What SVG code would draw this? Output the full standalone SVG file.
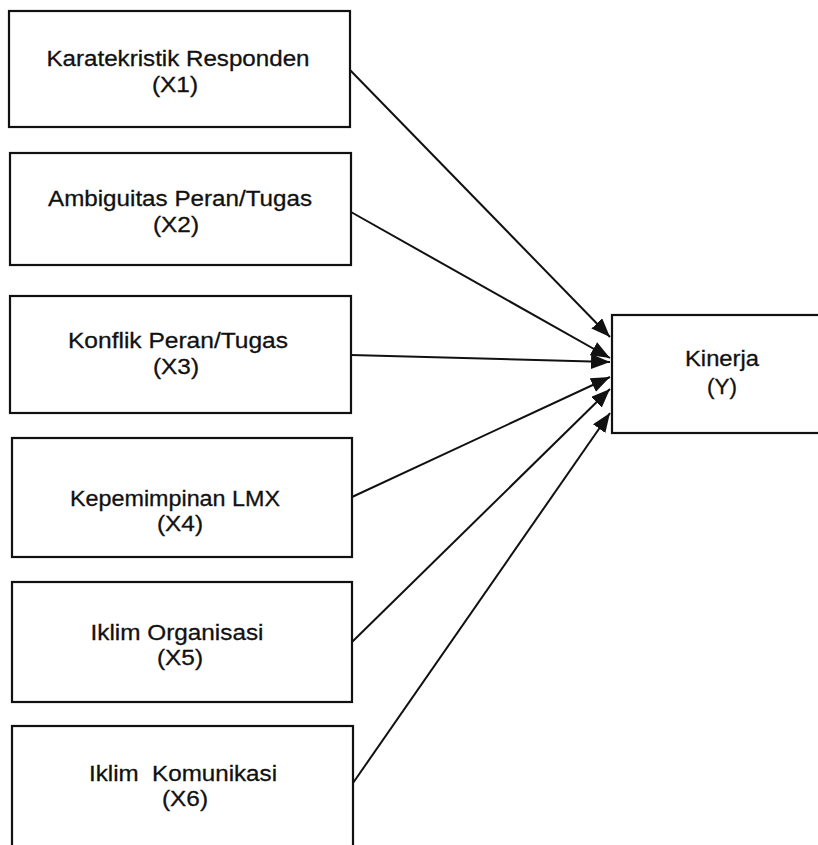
<svg xmlns="http://www.w3.org/2000/svg" width="818" height="845" viewBox="0 0 818 845">
<style>
.box{fill:none;stroke:#111;stroke-width:2.2}
.t{font-family:"Liberation Sans",Arial,sans-serif;font-size:22px;fill:#111;stroke:#111;stroke-width:0.3;text-anchor:middle}
.c{stroke:#111;stroke-width:2;fill:none}
</style>
<defs>
<marker id="ah" markerUnits="userSpaceOnUse" markerWidth="20" markerHeight="16" refX="19" refY="7.5" orient="auto">
<path d="M0,0 L19,7.5 L0,15 z" fill="#111"/>
</marker>
</defs>
<rect width="818" height="845" fill="#fff"/>
<g id="connectors">
<line class="c" x1="350" y1="70" x2="610" y2="337" marker-end="url(#ah)"/>
<line class="c" x1="351" y1="212" x2="610" y2="358" marker-end="url(#ah)"/>
<line class="c" x1="351" y1="355" x2="610" y2="362" marker-end="url(#ah)"/>
<line class="c" x1="352" y1="497" x2="610" y2="377" marker-end="url(#ah)"/>
<line class="c" x1="352" y1="642" x2="610" y2="389" marker-end="url(#ah)"/>
<line class="c" x1="353" y1="783" x2="610" y2="413" marker-end="url(#ah)"/>
</g>
<g id="x1">
<rect class="box" x="9" y="11" width="341" height="116"/>
<text class="t" x="178" y="66" textLength="263" lengthAdjust="spacingAndGlyphs">Karatekristik Responden</text>
<text class="t" x="175" y="92" textLength="46" lengthAdjust="spacingAndGlyphs">(X1)</text>
</g>
<g id="x2">
<rect class="box" x="10" y="153" width="341" height="112"/>
<text class="t" x="180" y="206" textLength="264" lengthAdjust="spacingAndGlyphs">Ambiguitas Peran/Tugas</text>
<text class="t" x="176" y="232" textLength="46" lengthAdjust="spacingAndGlyphs">(X2)</text>
</g>
<g id="x3">
<rect class="box" x="10" y="296" width="341" height="117"/>
<text class="t" x="178" y="348" textLength="220" lengthAdjust="spacingAndGlyphs">Konflik Peran/Tugas</text>
<text class="t" x="176" y="374" textLength="46" lengthAdjust="spacingAndGlyphs">(X3)</text>
</g>
<g id="x4">
<rect class="box" x="12" y="438" width="340" height="119"/>
<text class="t" x="175" y="506" textLength="210" lengthAdjust="spacingAndGlyphs">Kepemimpinan LMX</text>
<text class="t" x="180" y="531" textLength="46" lengthAdjust="spacingAndGlyphs">(X4)</text>
</g>
<g id="x5">
<rect class="box" x="12" y="582" width="340" height="120"/>
<text class="t" x="177" y="640" textLength="173" lengthAdjust="spacingAndGlyphs">Iklim Organisasi</text>
<text class="t" x="180" y="665" textLength="46" lengthAdjust="spacingAndGlyphs">(X5)</text>
</g>
<g id="x6">
<rect class="box" x="12" y="726" width="341" height="130"/>
<text class="t" x="183" y="781" textLength="188" lengthAdjust="spacingAndGlyphs" xml:space="preserve">Iklim  Komunikasi</text>
<text class="t" x="185" y="806" textLength="46" lengthAdjust="spacingAndGlyphs">(X6)</text>
</g>
<g id="y">
<rect class="box" x="612" y="315" width="220" height="118"/>
<text class="t" x="722" y="366" textLength="74" lengthAdjust="spacingAndGlyphs">Kinerja</text>
<text class="t" x="722" y="394" textLength="30" lengthAdjust="spacingAndGlyphs">(Y)</text>
</g>
</svg>
